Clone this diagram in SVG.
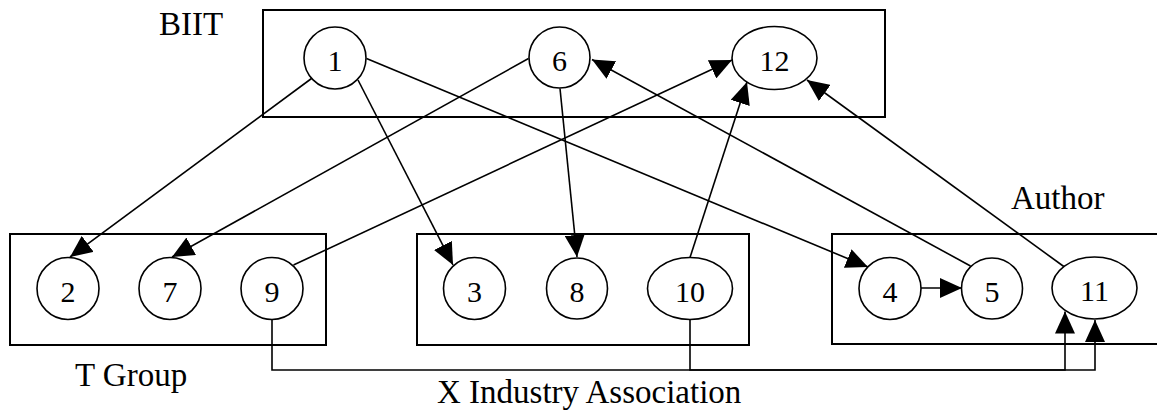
<svg xmlns="http://www.w3.org/2000/svg" width="1157" height="412" viewBox="0 0 1157 412">
<style>
.box{fill:none;stroke:#000;stroke-width:2}
.node{fill:#fff;stroke:#000;stroke-width:1.6}
.lbl{font-size:33px;fill:#000}
.num{font-size:30px;fill:#000;text-anchor:middle}
.edge{fill:none;stroke:#000;stroke-width:1.6;marker-end:url(#ah)}
</style>
<defs>
<marker id="ah" viewBox="0 0 22 20" refX="22" refY="10" markerWidth="22" markerHeight="20" markerUnits="userSpaceOnUse" orient="auto">
<path d="M0,0 L22,10 L0,20 Z" fill="#000"/>
</marker>
</defs>
<rect width="1157" height="412" fill="#fff"/>
<g font-family="Liberation Serif, Times New Roman, DejaVu Serif, serif">
<g id="group-biit">
<rect class="box" x="263" y="10" width="622" height="107"/>
<text class="lbl" x="159" y="35">BIIT</text>
</g>
<g id="group-tgroup">
<rect class="box" x="10" y="234" width="316" height="111"/>
<text class="lbl" x="75" y="386">T Group</text>
</g>
<g id="group-x">
<rect class="box" x="417" y="234" width="332" height="111"/>
<text class="lbl" x="437" y="403">X Industry Association</text>
</g>
<g id="group-author">
<rect class="box" x="832" y="234" width="340" height="110"/>
<text class="lbl" x="1011" y="209">Author</text>
</g>
<g id="connectors">
<line class="edge" x1="311.5" y1="78.5" x2="70" y2="257"/>
<line class="edge" x1="358" y1="80" x2="453" y2="265"/>
<line class="edge" x1="366.5" y1="58.5" x2="868" y2="267"/>
<line class="edge" x1="528.5" y1="58.5" x2="172" y2="257"/>
<line class="edge" x1="560" y1="88.5" x2="577" y2="257"/>
<line class="edge" x1="293.5" y1="265" x2="732" y2="60"/>
<line class="edge" x1="690" y1="257.5" x2="747" y2="82"/>
<line class="edge" x1="970.5" y1="266" x2="592" y2="59.5"/>
<line class="edge" x1="1064.5" y1="267" x2="807" y2="80"/>
<line class="edge" x1="921" y1="288" x2="962" y2="288"/>
<polyline class="edge" points="272,319 272,370 1095,370 1095,320"/>
<polyline class="edge" points="690,319 690,370 1065,370 1065,311.5"/>
</g>
<g id="node-1"><circle class="node" cx="335" cy="58" r="31"/><text class="num" x="335" y="71">1</text></g>
<g id="node-6"><circle class="node" cx="559.5" cy="57.5" r="30.5"/><text class="num" x="559.5" y="70.5">6</text></g>
<g id="node-12"><ellipse class="node" cx="774.5" cy="58" rx="42.5" ry="31.5"/><text class="num" x="774.5" y="71">12</text></g>
<g id="node-2"><circle class="node" cx="68" cy="288.5" r="31"/><text class="num" x="68" y="301.5">2</text></g>
<g id="node-7"><circle class="node" cx="170" cy="288.5" r="31"/><text class="num" x="170" y="301.5">7</text></g>
<g id="node-9"><circle class="node" cx="272" cy="288.5" r="31"/><text class="num" x="272" y="301.5">9</text></g>
<g id="node-3"><circle class="node" cx="474.5" cy="288.5" r="31"/><text class="num" x="474.5" y="301.5">3</text></g>
<g id="node-8"><circle class="node" cx="577" cy="288.5" r="30.5"/><text class="num" x="577" y="301.5">8</text></g>
<g id="node-10"><ellipse class="node" cx="690" cy="288.5" rx="42.5" ry="31"/><text class="num" x="690" y="301.5">10</text></g>
<g id="node-4"><circle class="node" cx="890" cy="288.5" r="31"/><text class="num" x="890" y="301.5">4</text></g>
<g id="node-5"><circle class="node" cx="992" cy="288.5" r="30.5"/><text class="num" x="992" y="301.5">5</text></g>
<g id="node-11"><ellipse class="node" cx="1094.5" cy="288" rx="42.5" ry="31"/><text class="num" x="1094.5" y="301">11</text></g>
</g>
</svg>
